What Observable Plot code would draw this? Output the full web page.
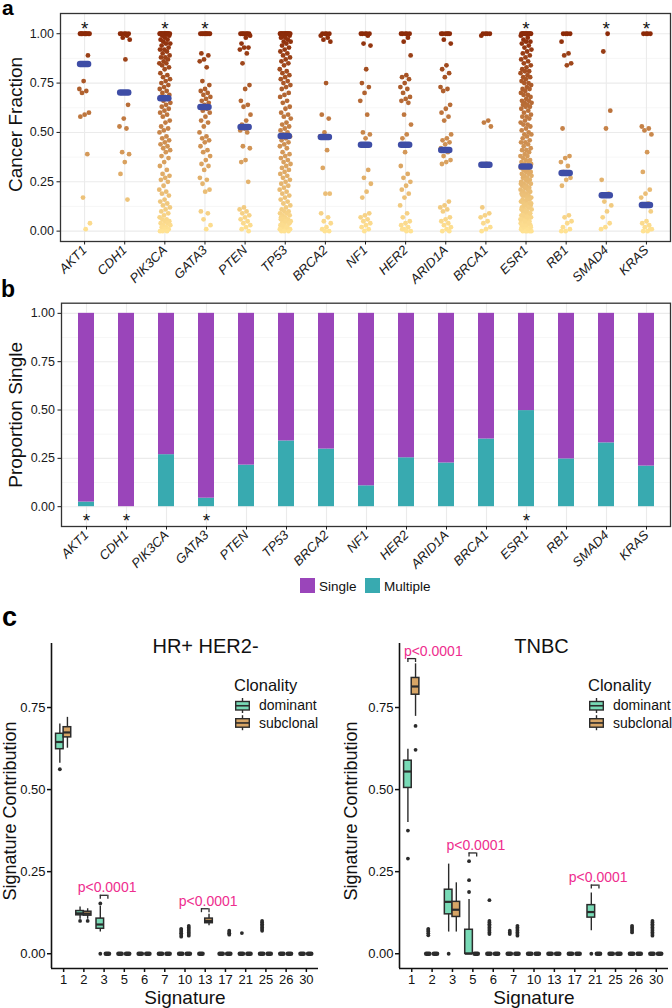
<!DOCTYPE html>
<html><head><meta charset="utf-8">
<script src="https://cdn.jsdelivr.net/npm/d3@7"></script>
<script src="https://cdn.jsdelivr.net/npm/@observablehq/plot@0.6"></script>
<style>
body{margin:0;background:#fff;}
#root{position:relative;width:672px;height:1008px;overflow:hidden;background:#fff;}
</style></head><body><div id="root"></div>
<script>
// ---------------- DATA ----------------
const genes = ["AKT1","CDH1","PIK3CA","GATA3","PTEN","TP53","BRCA2","NF1","HER2","ARID1A","BRCA1","ESR1","RB1","SMAD4","KRAS"];
// cancer fraction values (percent), read per gene
const cfAKT1 = [100,100,100,100,100,100,100,100,100,100,89,76,72,71,70,60,59,58,39,17,4,1];
const cfCDH1 = [100,100,100,100,100,99,98,97,87,70,64,57,53,52,40,39,35,29,16];
const cfPIK3CA = [100,100,100,100,100,100,100,100,100,100,100,100,100,100,99,99,98,97,97,96,95,95,94,93,92,92,91,90,89,88,88,87,86,85,85,84,83,82,80,79,78,77,76,75,74,73,72,71,70,69,68,68,67,66,65,64,63,62,61,60,59,58,56,55,53,52,51,50,48,47,46,45,44,43,42,41,40,38,37,35,33,31,29,28,27,26,25,23,21,20,19,18,16,15,14,13,12,11,10,9,8,7,6,6,5,5,4,4,3,3,2,2,1,1,0,0,0];
const cfGATA3 = [100,100,100,100,100,100,100,100,100,90,89,87,86,83,76,74,72,71,70,69,68,67,66,65,64,63,62,61,60,58,56,55,53,50,48,47,46,45,43,41,40,38,36,34,33,31,27,26,24,21,20,10,9,6,3,1];
const cfPTEN = [100,100,100,100,100,100,100,99,98,95,93,93,92,90,85,74,72,66,64,63,59,56,54,53,52,51,50,43,42,36,35,25,12,11,10,9,8,7,6,5,4,3,2,1,0];
const cfTP53 = [100,100,100,100,100,100,100,100,100,100,100,100,100,100,99,99,98,98,97,96,96,95,94,93,92,91,90,89,88,87,86,85,84,82,81,80,79,78,77,76,75,74,73,72,70,69,68,66,65,63,62,60,59,58,57,55,54,53,52,51,50,49,48,47,46,45,44,43,42,40,39,38,37,36,35,34,33,32,31,30,29,28,27,26,25,24,23,22,21,20,19,18,17,16,15,14,13,12,11,10,10,9,9,8,8,7,7,6,6,5,5,4,4,3,3,2,2,1,1,0,0,0,1,2,3,4,5,6];
const cfBRCA2 = [100,100,100,100,99,98,97,96,75,59,57,50,48,41,32,19,19,9,7,5,4,2,1,0,0];
const cfNF1 = [100,100,100,100,100,99,95,94,82,75,73,70,66,59,50,49,47,44,31,27,24,20,17,9,8,7,6,5,4,3,2,1,0];
const cfHER2 = [100,100,100,100,100,98,96,89,79,78,77,75,73,72,70,68,67,66,65,59,54,49,47,44,40,33,29,27,25,23,21,19,17,13,9,7,5,4,3,2,1,0,0,1];
const cfARID1A = [100,100,100,100,100,100,97,95,84,82,80,78,73,72,71,64,62,60,58,56,49,47,46,45,44,42,40,38,36,35,34,15,13,12,11,10,7,6,5,4,3,2,1,0,0];
const cfBRCA1 = [100,100,100,100,99,56,55,53,34,12,9,8,7,5,4,2,1,0];
const cfESR1 = [100,100,100,100,100,100,100,100,100,100,100,100,99,98,97,96,96,95,94,93,92,91,90,89,88,87,86,85,84,83,82,81,81,80,79,78,78,77,76,75,75,74,73,72,72,71,70,69,69,68,67,66,66,65,65,64,64,63,63,62,61,60,59,58,58,57,56,55,54,54,53,52,51,50,49,49,48,47,46,45,45,44,43,42,41,41,40,39,38,38,37,36,36,35,35,34,34,33,33,33,32,32,31,31,30,30,29,29,28,28,27,27,26,26,25,25,24,24,23,23,22,22,21,21,20,20,19,19,18,18,17,17,16,16,15,15,14,14,13,13,12,12,11,11,10,10,9,9,8,8,7,7,6,6,5,5,4,4,3,3,2,2,1,1,0,0,0,0,0,1,1,2,2,3,3,4,5,6,7,8,9,10,11,12,13,14,16,18,20,22,24,26,28,30,31,32];
const cfRB1 = [100,100,100,100,96,90,89,85,84,52,38,37,35,33,30,27,26,23,8,7,5,4,2,1,0,0];
const cfSMAD4 = [100,91,61,52,26,19,15,13,10,7,4,2,1];
const cfKRAS = [100,100,100,100,53,52,51,49,40,30,21,19,17,14,13,10,5,4,3,2,1,0,0,1];
const cfValues = [cfAKT1,cfCDH1,cfPIK3CA,cfGATA3,cfPTEN,cfTP53,cfBRCA2,cfNF1,cfHER2,cfARID1A,cfBRCA1,cfESR1,cfRB1,cfSMAD4,cfKRAS];
const cfMedians = [0.847,0.702,0.673,0.629,0.528,0.482,0.477,0.438,0.438,0.411,0.336,0.327,0.295,0.182,0.133];
const starsA = ["AKT1","PIK3CA","GATA3","ESR1","SMAD4","KRAS"];

const propMultiple = [0.024,0,0.269,0.044,0.215,0.34,0.298,0.108,0.253,0.226,0.35,0.497,0.247,0.33,0.21];
const starsB = ["AKT1","CDH1","GATA3","ESR1"];
const yTicks = [0,0.25,0.5,0.75,1];
const yMinor = [0.125,0.375,0.625,0.875];

const sigs = ["1","2","3","5","6","7","10","13","17","21","25","26","30"];
const cTicks = [0,0.25,0.5,0.75];
// [lower whisker, q1, median, q3, upper whisker]
const hrDominant = [[0.58,0.623,0.645,0.67,0.70],[0.105,0.117,0.123,0.13,0.142],[0.066,0.076,0.089,0.107,0.145],[0,0,0,0,0],[0,0,0,0,0],[0,0,0,0,0],[0,0,0,0,0],[0,0,0,0,0],[0,0,0,0,0],[0,0,0,0,0],[0,0,0,0,0],[0,0,0,0,0],[0,0,0,0,0]];
const hrSubclonal = [[0.626,0.659,0.674,0.69,0.72],[0.105,0.116,0.122,0.128,0.137],[0,0,0,0,0],[0,0,0,0,0],[0,0,0,0,0],[0,0,0,0,0],[0,0,0,0,0],[0.085,0.093,0.10,0.107,0.12],[0,0,0,0,0],[0,0,0,0,0],[0,0,0,0,0],[0,0,0,0,0],[0,0,0,0,0]];
const hrDominantOut = [[0.562],[0.10],[0.153,0],[],[],[],[0.052,0.057,0.062,0.067,0.072,0.076],[],[],[0.063],[0.07,0.075,0.08,0.085,0.09,0.095,0.10],[],[]];
const hrSubclonalOut = [[],[0.10],[],[],[],[],[0.055,0.06,0.065,0.07,0.075,0.08,0.085],[],[0.058,0.062,0.066,0.07],[],[],[],[]];
const hrBrackets = [{sig:"3", y:0.178, anchor:"middle"},{sig:"13", y:0.137, anchor:"middle"}];

const tnDominant = [[0.40,0.505,0.555,0.588,0.623],[0,0,0,0,0],[0.066,0.12,0.158,0.195,0.273],[0,0,0,0.073,0.165],[0,0,0,0,0],[0,0,0,0,0],[0,0,0,0,0],[0,0,0,0,0],[0,0,0,0,0],[0.07,0.11,0.127,0.148,0.185],[0,0,0,0,0],[0,0,0,0,0],[0,0,0,0,0]];
const tnSubclonal = [[0.723,0.789,0.814,0.84,0.883],[0,0,0,0,0],[0.066,0.112,0.134,0.158,0.216],[0,0,0,0,0],[0,0,0,0,0],[0,0,0,0,0],[0,0,0,0,0],[0,0,0,0,0],[0,0,0,0,0],[0,0,0,0,0],[0,0,0,0,0],[0,0,0,0,0],[0,0,0,0,0]];
const tnDominantOut = [[0.375,0.29],[0.056,0.062,0.068,0.072,0.076],[0],[0.188,0.224,0.282],[0.06,0.065,0.07,0.075,0.08,0.085,0.09,0.095,0.10,0.163],[0.06,0.065,0.07],[],[],[],[0],[],[0.065,0.07,0.075,0.08,0.085],[0.055,0.06,0.065,0.07,0.075,0.08,0.085,0.09,0.095,0.10]];
const tnSubclonalOut = [[0.694,0.621],[],[],[],[],[0.055,0.06,0.065,0.07,0.075,0.08,0.085],[],[],[],[],[],[],[]];
const tnBrackets = [{sig:"1", y:0.899, anchor:"start"},{sig:"5", y:0.307, anchor:"middle"},{sig:"21", y:0.209, anchor:"middle"}];

const clonality = ["dominant","subclonal"];
const clonColors = ["#78DAB6","#D7A566"];
const pColor = "#EE2D8E";

// ---------------- HELPERS ----------------
const FONT = '"Liberation Sans", Arial, Helvetica, sans-serif';
const root = document.getElementById("root");
function place(el, left, top) {
  const d = document.createElement("div");
  d.style.cssText = `position:absolute;left:${left}px;top:${top}px;`;
  d.appendChild(el); root.appendChild(d); return d;
}
const baseStyle = {fontFamily: FONT, background: "transparent", overflow: "visible"};
const idx = genes.map((g, i) => i);
const jit = k => (((((k + 1) * 0.6180339887) % 1) - 0.5) * 0.28);

// ---------------- PANEL A ----------------
const ptsA = genes.flatMap((g, gi) => cfValues[gi].map((p, k) => ({gi, k, v: p / 100})));
const medA = genes.map((g, gi) => ({gi, m: cfMedians[gi]}));
const chartA = Plot.plot({
  width: 672, height: 290, marginTop: 13, marginRight: 2, marginBottom: 49, marginLeft: 60,
  style: baseStyle,
  x: {type: "linear", domain: [-0.6, genes.length - 0.4]},
  y: {domain: [-0.0525, 1.1025]},
  color: {type: "linear", domain: [0, 1], range: ["#FFE293", "#8C2A08"], interpolate: d3.interpolateLab},
  marks: [
    Plot.ruleY(yMinor, {stroke: "#F3F3F3", strokeWidth: 0.7}),
    Plot.ruleY(yTicks, {stroke: "#EBEBEB", strokeWidth: 1.1}),
    Plot.ruleX(idx, {stroke: "#EBEBEB", strokeWidth: 1.1}),
    Plot.dot(ptsA, {x: d => d.gi + jit(d.k), y: "v", fill: "v", r: 2.4}),
    Plot.ruleY(medA, {y: "m", x1: d => d.gi - 0.1, x2: d => d.gi + 0.1, stroke: "#3E4DA6", strokeWidth: 6.5, strokeLinecap: "round"}),
    Plot.text(starsA, {x: g => genes.indexOf(g), y: () => 1.05, text: () => "*", fontSize: 19, dy: 5, fill: "#111"}),
    Plot.frame({stroke: "#333", strokeWidth: 1.3}),
    Plot.axisY({ticks: yTicks, tickFormat: d3.format(".2f"), tickSize: 3.5, tickPadding: 3, fontSize: 12.5, label: null, color: "#1a1a1a"}),
    Plot.axisX({ticks: idx, tickFormat: i => genes[i], tickRotate: -45, textAnchor: "end", fontStyle: "italic", fontSize: 13, tickSize: 3.5, tickPadding: 3, label: null, color: "#1a1a1a"}),
    Plot.text(["Cancer Fraction"], {frameAnchor: "left", textAnchor: "middle", lineAnchor: "middle", rotate: -90, dx: -45, dy: -3, fontSize: 19, fill: "#111"})
  ]
});
place(chartA, 0, 0);

// ---------------- PANEL B ----------------
const barsB = genes.flatMap((g, i) => [
  {gene: g, type: "Multiple", value: propMultiple[i]},
  {gene: g, type: "Single", value: 1 - propMultiple[i]}
]);
const chartB = Plot.plot({
  width: 672, height: 290, marginTop: 12.7, marginRight: 2, marginBottom: 54, marginLeft: 61,
  style: baseStyle,
  x: {domain: genes, paddingInner: 0.6, paddingOuter: 0.4},
  y: {domain: [-0.1025, 1.0525]},
  color: {domain: ["Single", "Multiple"], range: ["#9A45BA", "#38AAB0"]},
  marks: [
    Plot.ruleY(yMinor, {stroke: "#F3F3F3", strokeWidth: 0.7}),
    Plot.ruleY(yTicks, {stroke: "#EBEBEB", strokeWidth: 1.1}),
    Plot.ruleX(genes, {x: d => d, stroke: "#EBEBEB", strokeWidth: 1.1}),
    Plot.barY(barsB, {x: "gene", y: "value", fill: "type"}),
    Plot.text(starsB, {x: d => d, y: () => -0.05, text: () => "*", fontSize: 19, dy: 5, fill: "#111"}),
    Plot.frame({stroke: "#333", strokeWidth: 1.3}),
    Plot.axisY({ticks: yTicks, tickFormat: d3.format(".2f"), tickSize: 3.5, tickPadding: 3, fontSize: 12.5, label: null, color: "#1a1a1a"}),
    Plot.axisX({tickRotate: -45, textAnchor: "end", fontStyle: "italic", fontSize: 13, tickSize: 3.5, tickPadding: 3, label: null, color: "#1a1a1a"}),
    Plot.text(["Proportion Single"], {frameAnchor: "left", textAnchor: "middle", lineAnchor: "middle", rotate: -90, dx: -46, fontSize: 19, fill: "#111"})
  ]
});
place(chartB, 0, 290);

// ---------------- PANEL C ----------------
function boxPanel(cfg) {
  const boxes = [];
  sigs.forEach((s, i) => {
    [[0, cfg.dom[i], -1], [1, cfg.sub[i], 1]].forEach(([g, st, side]) => {
      boxes.push({i, grp: clonality[g], side, lo: st[0], q1: st[1], med: st[2], q3: st[3], hi: st[4]});
    });
  });
  const outs = [];
  sigs.forEach((s, i) => {
    cfg.domOut[i].forEach(v => outs.push({i, side: -1, v}));
    cfg.subOut[i].forEach(v => outs.push({i, side: 1, v}));
  });
  const br = cfg.brackets.map(b => ({...b, i: sigs.indexOf(b.sig)}));
  const cx = d => d.i + d.side * 0.1875;
  const bx1 = d => d.side < 0 ? d.i - 0.375 : d.i;
  const bx2 = d => d.side < 0 ? d.i : d.i + 0.375;
  const flat = boxes.filter(d => d.q1 === d.q3);
  const tick = 0.012;
  const xDom = [-0.6, sigs.length - 0.4], yDom = [-0.045, 0.945];
  return Plot.plot({
    width: 336, height: 378, marginTop: 13, marginBottom: 40, marginLeft: cfg.ml, marginRight: cfg.mr,
    style: baseStyle,
    x: {type: "linear", domain: xDom},
    y: {domain: yDom},
    color: {domain: clonality, range: clonColors},
    marks: [
      Plot.ruleX(boxes.filter(d => d.hi > d.lo), {x: cx, y1: "lo", y2: "hi", stroke: "#2b2b2b", strokeWidth: 1.4}),
      Plot.rect(boxes.filter(d => d.q3 > d.q1), {x1: bx1, x2: bx2, y1: "q1", y2: "q3", fill: "grp", stroke: "#2b2b2b", strokeWidth: 1.5}),
      Plot.ruleY(boxes.filter(d => d.q3 > d.q1), {y: "med", x1: bx1, x2: bx2, stroke: "#2b2b2b", strokeWidth: 2.2}),
      Plot.ruleY(flat, {y: "med", x1: d => bx1(d) + 0.11, x2: d => bx2(d) - 0.11, stroke: "#2b2b2b", strokeWidth: 4.6, strokeLinecap: "round"}),
      Plot.dot(outs, {x: cx, y: "v", r: 1.9, fill: "#2b2b2b"}),
      Plot.ruleY(br, {y: "y", x1: d => d.i - 0.1875, x2: d => d.i + 0.1875, stroke: "#2b2b2b", strokeWidth: 1.3}),
      Plot.ruleX(br, {x: d => d.i - 0.1875, y1: d => d.y - tick, y2: "y", stroke: "#2b2b2b", strokeWidth: 1.3}),
      Plot.ruleX(br, {x: d => d.i + 0.1875, y1: d => d.y - tick, y2: "y", stroke: "#2b2b2b", strokeWidth: 1.3}),
      Plot.text(br.filter(d => d.anchor === "middle"), {x: "i", y: "y", text: () => "p<0.0001", fill: pColor, fontSize: 14, lineAnchor: "bottom", dy: -3, dx: 3}),
      Plot.text(br.filter(d => d.anchor === "start"), {x: d => d.i - 0.1875, y: "y", text: () => "p<0.0001", fill: pColor, fontSize: 14, lineAnchor: "bottom", textAnchor: "start", dy: -3, dx: -4}),
      Plot.ruleX([xDom[0]], {stroke: "#111", strokeWidth: 1.6}),
      Plot.ruleY([yDom[0]], {stroke: "#111", strokeWidth: 1.6}),
      Plot.axisY({ticks: cTicks, tickFormat: d3.format(".2f"), tickSize: 4, tickPadding: 2, fontSize: 13, label: null, strokeWidth: 1.5, color: "#111"}),
      Plot.axisX({ticks: sigs.map((s, i) => i), tickFormat: i => sigs[i], tickSize: 4, tickPadding: 2, fontSize: 13, label: null, strokeWidth: 1.5, color: "#111"}),
      Plot.text([cfg.title], {frameAnchor: "top", textAnchor: "middle", dx: cfg.titleDx, dy: 9, lineAnchor: "bottom", fontSize: 20, fill: "#111"}),
      Plot.text(["Signature Contribution"], {frameAnchor: "left", textAnchor: "middle", lineAnchor: "middle", rotate: -90, dx: cfg.ylabDx, dy: 5, fontSize: 18, fill: "#111"}),
      Plot.text(["Signature"], {frameAnchor: "bottom", textAnchor: "middle", lineAnchor: "middle", dy: 29, fontSize: 19, fill: "#111"})
    ]
  });
}
place(boxPanel({title: "HR+ HER2-", dom: hrDominant, sub: hrSubclonal, domOut: hrDominantOut, subOut: hrSubclonalOut, brackets: hrBrackets, ml: 51, mr: 18, titleDx: 20.5, ylabDx: -41}), 0, 630);
place(boxPanel({title: "TNBC", dom: tnDominant, sub: tnSubclonal, domOut: tnDominantOut, subOut: tnSubclonalOut, brackets: tnBrackets, ml: 63, mr: 4, titleDx: 7.5, ylabDx: -48}), 336, 630);

// ---------------- OVERLAY: panel letters and legends ----------------
const ov = d3.select(root).append("svg")
  .attr("width", 672).attr("height", 1008)
  .style("position", "absolute").style("left", "0px").style("top", "0px")
  .style("pointer-events", "none").style("font-family", FONT);
ov.append("text").attr("x", 2).attr("y", 15).attr("font-size", 21).attr("font-weight", "bold").text("a");
ov.append("text").attr("x", 1).attr("y", 296.7).attr("font-size", 23).attr("font-weight", "bold").text("b");
ov.append("text").attr("x", 2).attr("y", 626).attr("font-size", 27).attr("font-weight", "bold").text("c");

// legend b
[["Single", "#9A45BA", 300, 319], ["Multiple", "#38AAB0", 365, 384]].forEach(([t, c, sx, tx]) => {
  ov.append("rect").attr("x", sx).attr("y", 578).attr("width", 15).attr("height", 15).attr("fill", c);
  ov.append("text").attr("x", tx).attr("y", 590.5).attr("font-size", 13.5).attr("fill", "#111").text(t);
});

// legends c
function clonLegend(titleX, iconX, textX) {
  ov.append("text").attr("x", titleX).attr("y", 690.8).attr("font-size", 16.5).attr("fill", "#111").text("Clonality");
  clonality.forEach((k, j) => {
    const top = 698 + j * 17.2;
    const g = ov.append("g").attr("transform", `translate(${iconX},${top})`);
    g.append("line").attr("x1", 7.5).attr("x2", 7.5).attr("y1", 0).attr("y2", 15).attr("stroke", "#2b2b2b").attr("stroke-width", 1.4);
    g.append("rect").attr("x", 0.7).attr("y", 3.5).attr("width", 13.6).attr("height", 8.5).attr("fill", clonColors[j]).attr("stroke", "#2b2b2b").attr("stroke-width", 1.4);
    g.append("line").attr("x1", 0.7).attr("x2", 14.3).attr("y1", 7.75).attr("y2", 7.75).attr("stroke", "#2b2b2b").attr("stroke-width", 1.6);
    ov.append("text").attr("x", textX).attr("y", top + 12.4).attr("font-size", 14).attr("fill", "#111").text(k);
  });
}
clonLegend(234, 235, 259);
clonLegend(588, 589, 613);
</script></body></html>
